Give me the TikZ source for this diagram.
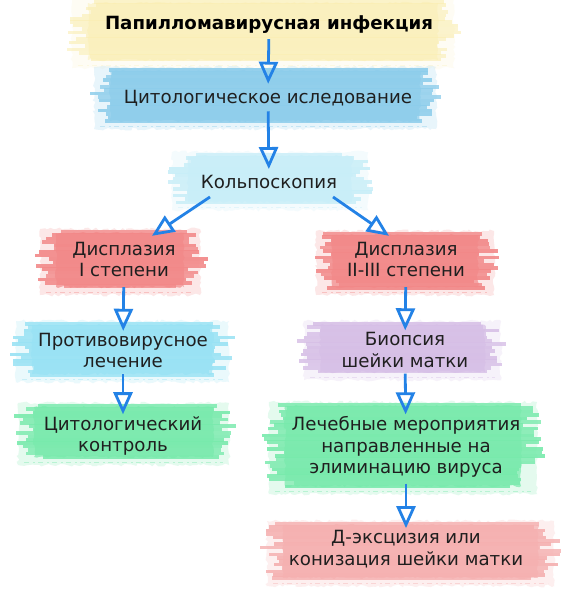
\documentclass[tikz,border=0pt]{standalone}
\usepackage{fontspec}
\setmainfont{DejaVu Sans}
\usetikzlibrary{arrows.meta,decorations.pathmorphing,calc}
\definecolor{cyellow}{RGB}{250,238,178}
\definecolor{cblue}{RGB}{141,205,235}
\definecolor{ckolpo}{RGB}{200,238,248}
\definecolor{cred}{RGB}{242,136,136}
\definecolor{ccyan}{RGB}{152,226,244}
\definecolor{clav}{RGB}{214,190,230}
\definecolor{cgreen}{RGB}{120,234,172}
\definecolor{cpink}{RGB}{245,176,176}
\definecolor{carrow}{RGB}{35,130,230}
\newcommand\brushblob[6]{%
  \fill[#5, opacity=0.2*#6, decorate, decoration={random steps, segment length=3pt, amplitude=1.5pt}] (#1+8,#2-1) rectangle (#3-8,#4+4);
  \fill[#5, opacity=0.7*#6, decorate, decoration={random steps, segment length=3pt, amplitude=1.2pt}] (#1+24,#2+3) rectangle (#3-24,#4-4);
  \pgfmathsetmacro\ya{#2}%
  \pgfmathsetmacro\yb{#2+3.4}%
  \pgfmathsetmacro\yc{#4-4}%
  \foreach \yy in {\ya,\yb,...,\yc}{%
    \pgfmathsetmacro\tp{16*abs(2*(\yy+2-(#2+#4)/2)/(#4-#2))^3}%
    \pgfmathsetmacro\ll{#1+\tp+24*rnd}%
    \pgfmathsetmacro\rr{#3-\tp-24*rnd}%
    \pgfmathsetmacro\op{(0.78+0.14*rnd)*#6}%
    \fill[#5,opacity=\op] (\ll,\yy) rectangle (\rr,\yy+3.5);
  }%
  \draw[#5, opacity=0.4*#6, line width=1.6pt, dash pattern=on 5pt off 4pt on 2pt off 3pt] (#1+14,#4+1.5) -- (#3-14,#4+1.5);
}
\tikzset{
  lbl/.style={font=\fontsize{18.2}{21.5}\selectfont, align=center, text=black!88, inner sep=2pt},
  ttl/.style={lbl, font=\fontsize{18.2}{21.5}\selectfont\bfseries, text=black},
  arr/.style={carrow, line width=2.8pt, -{Triangle[open, length=22pt, width=19pt, line width=2.8pt]}}
}
\begin{document}
\begin{tikzpicture}[x=1pt,y=-1pt]
\pgfmathsetseed{11}
\useasboundingbox (0,0) rectangle (565,600);
\fill[white] (0,0) rectangle (565,600);
% blobs
\brushblob{64}{0}{462}{64}{cyellow}{0.7}
\brushblob{86}{68}{444}{125}{cblue}{1}
\brushblob{164}{153}{376}{206}{ckolpo}{1}
\brushblob{32}{230}{208}{291}{cred}{1}
\brushblob{308}{232}{502}{291}{cred}{1}
\brushblob{8}{322}{237}{378}{ccyan}{1}
\brushblob{296}{322}{509}{376}{clav}{1}
\brushblob{10}{404}{237}{461}{cgreen}{1}
\brushblob{261}{403}{545}{490}{cgreen}{1}
\brushblob{259}{522}{562}{582}{cpink}{1}
% nodes
\node[ttl] (title) at (269,25) {Папилломавирусная инфекция};
\node[lbl] (cyto) at (268,98) {Цитологическое иследование};
\node[lbl] (kolpo) at (269,182) {Кольпоскопия};
\node[lbl] (dys1) at (124,259.5) {Дисплазия\\I степени};
\node[lbl] (dys2) at (406,259.5) {Дисплазия\\II-III степени};
\node[lbl] (prot) at (123,350.5) {Противовирусное\\лечение};
\node[lbl] (bio) at (405,350) {Биопсия\\шейки матки};
\node[lbl] (cont) at (123,436) {Цитологический\\контроль};
\node[lbl] (lech) at (406,447) {Лечебные мероприятия\\направленные на\\элиминацию вируса};
\node[lbl] (dex) at (406,549) {Д-эксцизия или\\конизация шейки матки};
% arrows
\draw[arr, shorten <=3pt, shorten >=4pt] (title) -- (cyto);
\draw[arr, shorten <=3pt, shorten >=4pt] (cyto) -- (kolpo);
\draw[arr] ([xshift=-59pt,yshift=-6pt]kolpo.south) -- ([xshift=28pt,yshift=4pt]dys1.north);
\draw[arr] ([xshift=64pt,yshift=-6pt]kolpo.south) -- ([xshift=-17pt,yshift=4pt]dys2.north);
\draw[arr, shorten <=8pt, shorten >=0pt] (dys1) -- (prot);
\draw[arr, shorten <=8pt, shorten >=0pt] (dys2) -- (bio);
\draw[arr, shorten <=4pt, shorten >=0pt] (prot) -- (cont);
\draw[arr, shorten <=4pt, shorten >=0pt] (bio) -- (lech);
\draw[arr, shorten <=4pt, shorten >=0pt] (lech) -- (dex);
\end{tikzpicture}
\end{document}
